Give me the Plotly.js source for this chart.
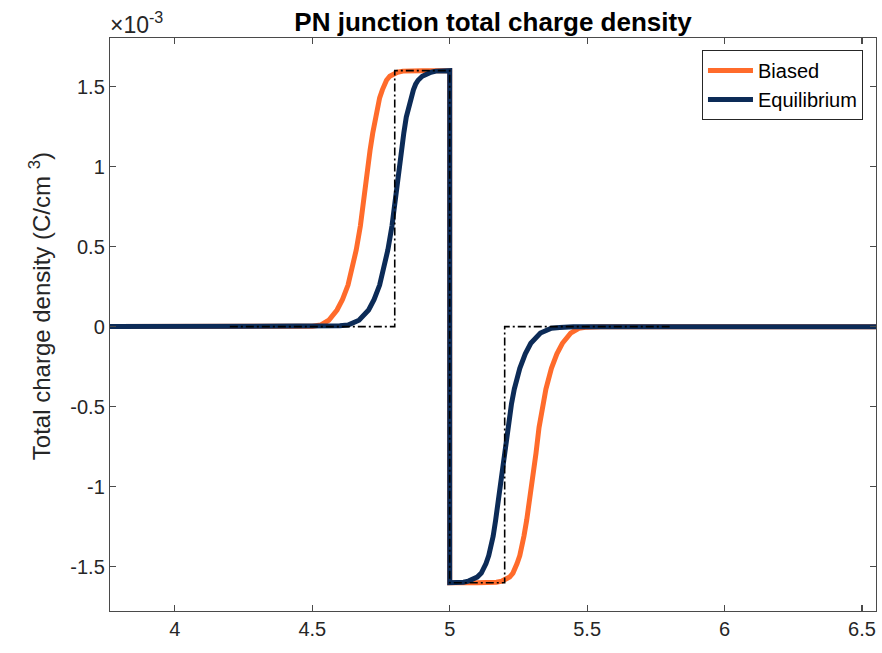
<!DOCTYPE html>
<html>
<head>
<meta charset="utf-8">
<script src="https://cdn.plot.ly/plotly-3.0.1.min.js"></script>
<style>html,body{margin:0;padding:0;background:#fff;}#chart{width:882px;height:653px;}</style>
</head>
<body>
<div id="chart"></div>
<script>
// Position (x) and total charge density in units of 1e-3 C/cm^3
const biasedX = [3.7, 4.45, 4.5, 4.53, 4.56, 4.59, 4.61, 4.63, 4.65, 4.66, 4.675, 4.686, 4.70, 4.71, 4.72, 4.73, 4.738, 4.745, 4.755, 4.762, 4.77, 4.782, 4.795, 4.81, 4.83, 4.86, 4.9, 5.0,
                 5.0, 5.1, 5.14, 5.17, 5.19, 5.205, 5.218, 5.23, 5.238, 5.245, 5.255, 5.262, 5.27, 5.28, 5.29, 5.30, 5.314, 5.325, 5.34, 5.35, 5.37, 5.39, 5.41, 5.44, 5.47, 5.5, 5.55, 6.6];
const biasedY = [0, 0, 0.003, 0.01, 0.04, 0.104, 0.17, 0.26, 0.39, 0.48, 0.63, 0.79, 0.95, 1.1, 1.21, 1.31, 1.38, 1.43, 1.48, 1.515, 1.54, 1.565, 1.58, 1.59, 1.597, 1.6, 1.6, 1.6,
                 -1.6, -1.6, -1.6, -1.597, -1.59, -1.58, -1.565, -1.54, -1.515, -1.48, -1.43, -1.38, -1.31, -1.21, -1.1, -0.95, -0.79, -0.63, -0.48, -0.39, -0.26, -0.17, -0.104, -0.04, -0.01, -0.003, 0, 0];

const equilX = [3.7, 4.55, 4.6, 4.63, 4.67, 4.705, 4.725, 4.745, 4.765, 4.775, 4.79, 4.801, 4.813, 4.824, 4.833, 4.842, 4.851, 4.858, 4.868, 4.876, 4.885, 4.9, 4.917, 4.932, 4.95, 4.98, 5.0,
                5.0, 5.02, 5.05, 5.068, 5.083, 5.1, 5.115, 5.124, 5.132, 5.142, 5.149, 5.158, 5.167, 5.176, 5.187, 5.199, 5.21, 5.225, 5.235, 5.255, 5.275, 5.295, 5.33, 5.37, 5.4, 5.45, 6.6];
const equilY = [0, 0, 0.005, 0.01, 0.04, 0.104, 0.17, 0.26, 0.39, 0.48, 0.63, 0.79, 0.95, 1.1, 1.21, 1.31, 1.38, 1.43, 1.48, 1.515, 1.54, 1.565, 1.58, 1.59, 1.597, 1.6, 1.6,
                -1.6, -1.6, -1.597, -1.59, -1.58, -1.565, -1.54, -1.515, -1.48, -1.43, -1.38, -1.31, -1.21, -1.1, -0.95, -0.79, -0.63, -0.48, -0.39, -0.26, -0.17, -0.104, -0.04, -0.01, -0.005, 0, 0];

// Depletion approximation (dash-dot)
const depletionX = [4.2, 4.8, 4.8, 5.0, 5.0, 5.2, 5.2, 5.8];
const depletionY = [0, 0, 1.6, 1.6, -1.6, -1.6, 0, 0];

const seriesNames = ['Biased', 'Equilibrium'];
const xTicks = [4, 4.5, 5, 5.5, 6, 6.5];
const xTickText = ['4', '4.5', '5', '5.5', '6', '6.5'];
const yTicks = [-1.5, -1, -0.5, 0, 0.5, 1, 1.5];
const yTickText = ['-1.5', '-1', '-0.5', '0', '0.5', '1', '1.5'];

const FONT = 'Liberation Sans, Arial, Helvetica, sans-serif';
const TXT = '#262626';

const traces = [
  {x: biasedX, y: biasedY, name: seriesNames[0], mode: 'lines',
   line: {color: '#FF6B2B', width: 5}},
  {x: equilX, y: equilY, name: seriesNames[1], mode: 'lines',
   line: {color: '#0C2B57', width: 5}},
  {x: depletionX, y: depletionY, mode: 'lines', showlegend: false,
   line: {color: '#000000', width: 1.6, dash: '8px,3px,2px,3px'}}
];

const axisCommon = {
  showline: true, linecolor: '#4a4a4a', linewidth: 1.2, mirror: 'ticks',
  ticks: 'inside', ticklen: 6, tickcolor: '#4a4a4a', tickwidth: 1.2,
  showgrid: false, zeroline: false,
  tickfont: {family: FONT, size: 20, color: TXT}
};

const layout = {
  width: 882, height: 653,
  margin: {l: 110, r: 6, t: 38, b: 42},
  paper_bgcolor: '#ffffff', plot_bgcolor: '#ffffff',
  font: {family: FONT, color: TXT},
  title: {text: '<b>PN junction total charge density</b>',
          font: {family: FONT, size: 26, color: '#000000'},
          x: 0.5, xref: 'paper', y: 0.966, yref: 'container', yanchor: 'middle'},
  xaxis: Object.assign({}, axisCommon, {
    range: [3.764, 6.551], tickvals: xTicks, ticktext: xTickText
  }),
  yaxis: Object.assign({}, axisCommon, {
    range: [-1.777, 1.804], tickvals: yTicks, ticktext: yTickText
  }),
  legend: {x: 0.983, xanchor: 'right', y: 0.979, yanchor: 'top',
           bgcolor: '#ffffff', bordercolor: '#262626', borderwidth: 1,
           font: {family: FONT, size: 20, color: '#000000'},
           itemwidth: 45, tracegroupgap: 0},
  annotations: [{
    text: '×10<sup>-3</sup>', xref: 'paper', yref: 'paper', x: 0, y: 1,
    xanchor: 'left', yanchor: 'bottom', showarrow: false, xshift: -2, yshift: -2,
    font: {family: FONT, size: 23, color: TXT}
  }, {
    text: 'Total charge density (C/cm <sup>3</sup>)', xref: 'paper', yref: 'paper',
    x: -0.0914, y: 0.532, xanchor: 'center', yanchor: 'middle', textangle: -90,
    showarrow: false, font: {family: FONT, size: 24, color: TXT}
  }]
};

Plotly.newPlot('chart', traces, layout, {displayModeBar: false, staticPlot: true});
</script>
</body>
</html>
